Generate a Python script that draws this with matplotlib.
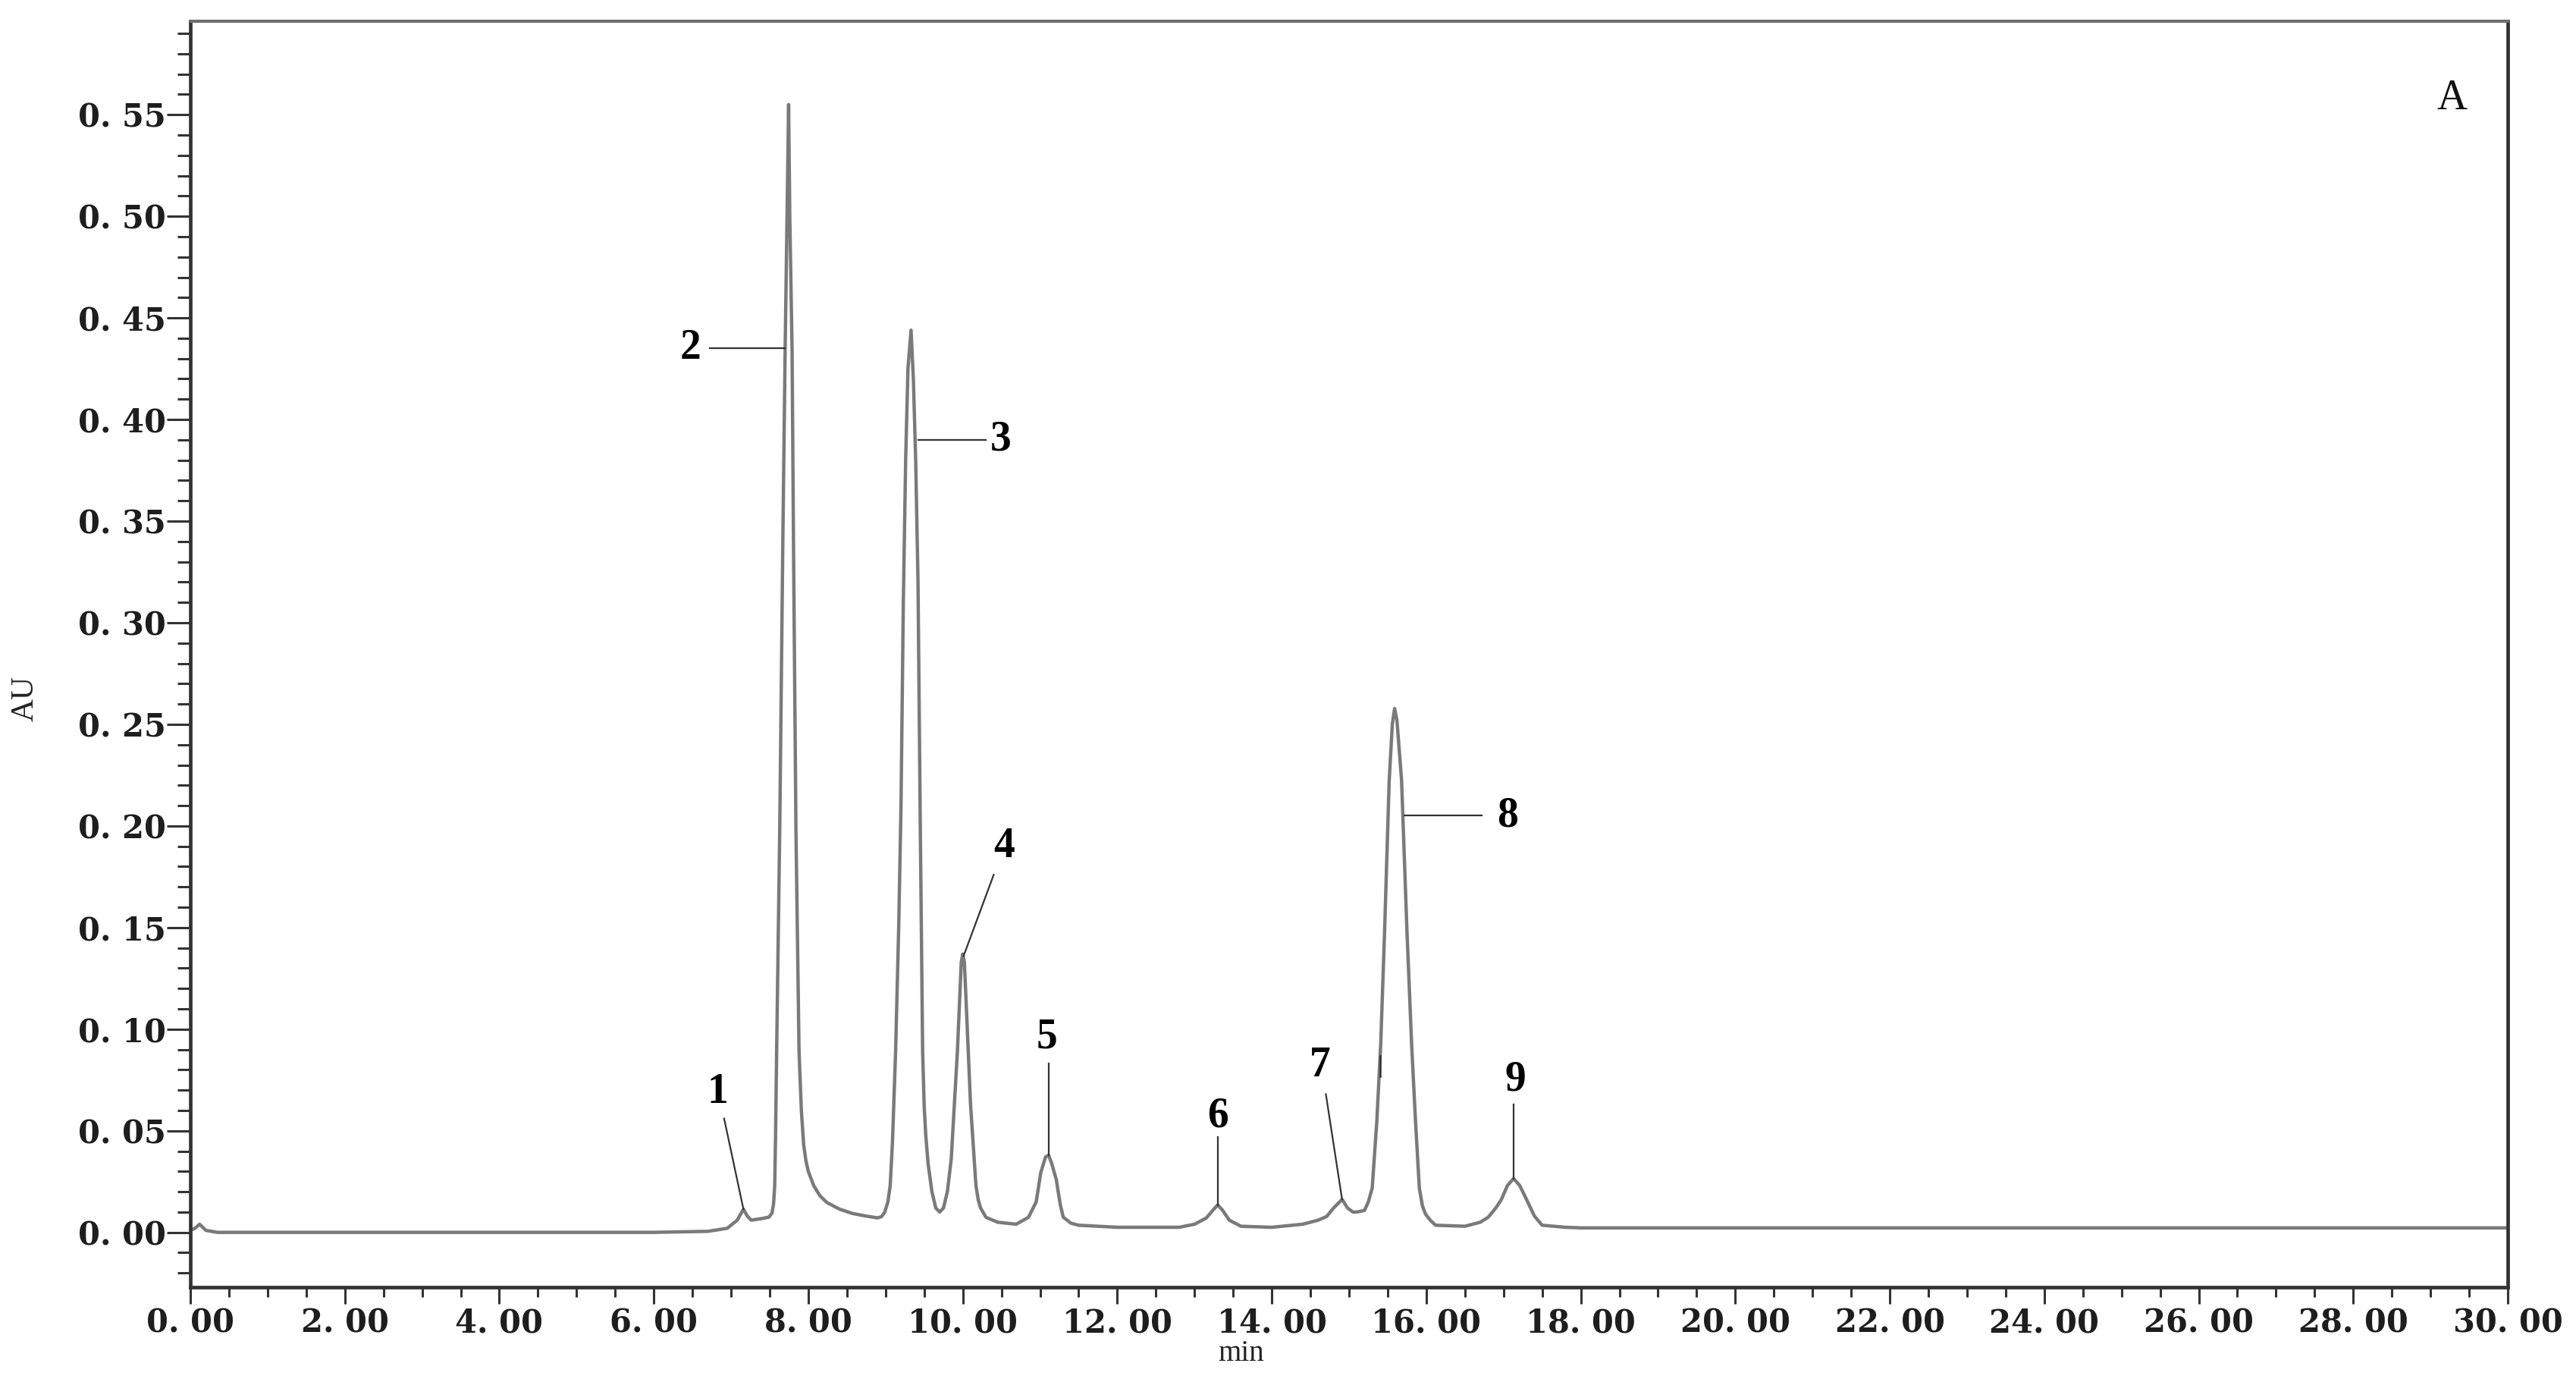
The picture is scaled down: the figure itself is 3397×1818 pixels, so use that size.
import matplotlib
matplotlib.use("Agg")
import matplotlib.pyplot as plt
from matplotlib.ticker import MultipleLocator, FuncFormatter

# ---------------- data ----------------
time_min = [
    0.00, 0.06, 0.12, 0.20, 0.35, 3.00, 6.00, 6.70, 6.95, 7.08, 7.16, 7.21,
    7.26, 7.40, 7.49, 7.53, 7.55, 7.565, 7.575, 7.59, 7.63, 7.67, 7.70, 7.725, 7.745,
    7.76, 7.79, 7.81, 7.84, 7.88, 7.91, 7.94, 7.97, 8.00, 8.07, 8.15, 8.24, 8.40, 8.57,
    8.75, 8.90, 8.95, 8.99, 9.03, 9.06, 9.09, 9.13, 9.17, 9.20, 9.23, 9.26, 9.29, 9.33,
    9.36, 9.39, 9.42, 9.45, 9.48, 9.50, 9.52, 9.55, 9.60, 9.65, 9.70,
    9.75, 9.80, 9.85, 9.93, 9.98, 10.00, 10.02, 10.04, 10.10, 10.17, 10.20, 10.23,
    10.30, 10.45, 10.69, 10.85, 10.95, 11.01, 11.07, 11.11, 11.15, 11.21,
    11.26, 11.30, 11.40, 11.50, 12.00, 12.80,
    13.00, 13.15, 13.24, 13.30, 13.36, 13.45, 13.60, 14.00, 14.40, 14.60,
    14.71, 14.80, 14.91, 14.98, 15.05, 15.10, 15.20, 15.25, 15.30, 15.36,
    15.41, 15.46, 15.52, 15.56, 15.59, 15.62, 15.68, 15.75, 15.81, 15.86,
    15.91, 15.95, 15.99, 16.05, 16.12, 16.50, 16.70, 16.80, 16.90, 16.97, 17.05,
    17.13, 17.21, 17.30, 17.40, 17.50, 17.80, 18.00, 30.00,
]
absorbance = [
    0.001, 0.002, 0.004, 0.001, 0.000, 0.000, 0.000, 0.0005, 0.002, 0.006, 0.0114, 0.008,
    0.006, 0.0068, 0.0075, 0.0095, 0.014, 0.023, 0.045, 0.089, 0.198, 0.340, 0.434, 0.500, 0.555,
    0.500, 0.434, 0.330, 0.198, 0.089, 0.060, 0.043, 0.035, 0.030, 0.023, 0.018, 0.0147, 0.0115, 0.0093,
    0.008, 0.0071, 0.0078, 0.010, 0.015, 0.023, 0.045, 0.089, 0.150, 0.210, 0.310, 0.380, 0.425, 0.444,
    0.420, 0.380, 0.320, 0.198, 0.089, 0.062, 0.048, 0.034, 0.020, 0.012, 0.010,
    0.012, 0.020, 0.036, 0.089, 0.133, 0.137, 0.133, 0.116, 0.063, 0.023, 0.016, 0.012,
    0.0074, 0.005, 0.004, 0.0074, 0.015, 0.0295, 0.037, 0.038, 0.034, 0.026,
    0.014, 0.0075, 0.0045, 0.0035, 0.0025, 0.0025,
    0.004, 0.007, 0.011, 0.0135, 0.011, 0.006, 0.003, 0.0025, 0.004, 0.006,
    0.0078, 0.012, 0.0162, 0.012, 0.010, 0.010, 0.0108, 0.015, 0.0218, 0.055,
    0.0926, 0.148, 0.2225, 0.250, 0.2578, 0.252, 0.2225, 0.148, 0.0926, 0.055,
    0.0218, 0.013, 0.009, 0.006, 0.0035, 0.003, 0.005, 0.0074, 0.012, 0.016, 0.023,
    0.0265, 0.023, 0.016, 0.008, 0.0035, 0.0025, 0.0022, 0.0022,
]

peak_ids = ["1", "2", "3", "4", "5", "6", "7", "8", "9"]
panel_label = "A"
x_label = "min"
y_label = "AU"

# ---------------- layout of annotations ----------------
# text centre (t, AU) and leader line (t0, y0) -> (t1, y1)
label_pos = [(6.83, 0.069), (6.47, 0.435), (10.49, 0.390), (10.53, 0.190),
             (11.09, 0.096), (13.30, 0.057), (14.62, 0.082), (17.05, 0.205),
             (17.15, 0.075)]
leaders = [((6.91, 0.056), (7.16, 0.0114)),
           ((6.72, 0.435), (7.70, 0.435)),
           ((9.42, 0.390), (10.30, 0.390)),
           ((10.40, 0.176), (10.01, 0.136)),
           ((11.11, 0.083), (11.11, 0.038)),
           ((13.30, 0.047), (13.30, 0.0135)),
           ((14.70, 0.068), (14.91, 0.0162)),
           ((15.72, 0.205), (16.72, 0.205)),
           ((17.13, 0.063), (17.13, 0.0265))]

W, H, DPI = 3398, 1818, 100
fig = plt.figure(figsize=(W / DPI, H / DPI), dpi=DPI, facecolor="white")
ax = fig.add_axes([251 / W, 1 - 1697 / H, (3307 - 251) / W, (1697 - 28) / H])

ax.plot(time_min, absorbance, color="#7a7a7a", lw=3.2,
        solid_joinstyle="round", solid_capstyle="round")

ax.set_xlim(0, 30)
ax.set_ylim(-0.027, 0.596)

ax.xaxis.set_major_locator(MultipleLocator(2))
ax.xaxis.set_minor_locator(MultipleLocator(0.5))
ax.yaxis.set_major_locator(MultipleLocator(0.05))
ax.yaxis.set_minor_locator(MultipleLocator(0.01))

fmt = FuncFormatter(lambda v, p: f"{abs(v):.2f}".replace(".", ". "))
ax.xaxis.set_major_formatter(fmt)
ax.yaxis.set_major_formatter(fmt)

ax.tick_params(axis="y", which="major", direction="out", length=22, width=2.2,
               color="#333333", pad=1, labelsize=30, labelcolor="#1e1e1e")
ax.tick_params(axis="y", which="minor", direction="out", length=12, width=2.2,
               color="#333333")
ax.tick_params(axis="x", which="major", direction="out", length=16, width=2.2,
               color="#333333", pad=3, labelsize=30, labelcolor="#1e1e1e")
ax.tick_params(axis="x", which="minor", direction="out", length=9, width=2.2,
               color="#333333")

for lab in ax.get_xticklabels() + ax.get_yticklabels():
    lab.set_fontfamily("DejaVu Serif")
    lab.set_fontweight("bold")

for side in ["left", "bottom", "right"]:
    ax.spines[side].set_linewidth(3.4)
    ax.spines[side].set_color("#333333")
ax.spines["top"].set_linewidth(3.0)
ax.spines["top"].set_color("#6e6e6e")

# axis titles
fig.text(33 / W, 1 - 921 / H, y_label, rotation=90, ha="center", va="center",
         family="Liberation Serif", fontsize=30, color="#222222")
ax.text(13.6, -0.0595, x_label, ha="center", va="center",
        family="Liberation Serif", fontsize=28, color="#222222", clip_on=False)

# peak labels
for pid, (tx, ty), ((x0, y0), (x1, y1)) in zip(peak_ids, label_pos, leaders):
    ax.plot([x0, x1], [y0, y1], color="#333333", lw=1.6)
    ax.text(tx, ty, pid, ha="center", va="center", family="Liberation Serif",
            weight="bold", fontsize=40, color="black")

# small tick mark on the front of peak 8
ax.plot([15.40, 15.40], [0.0766, 0.087], color="#333333", lw=1.8)

ax.text(29.28, 0.558, panel_label, ha="center", va="center",
        family="Liberation Serif", fontsize=40, color="#111111")

fig.savefig("out.png", dpi=DPI, facecolor="white")
